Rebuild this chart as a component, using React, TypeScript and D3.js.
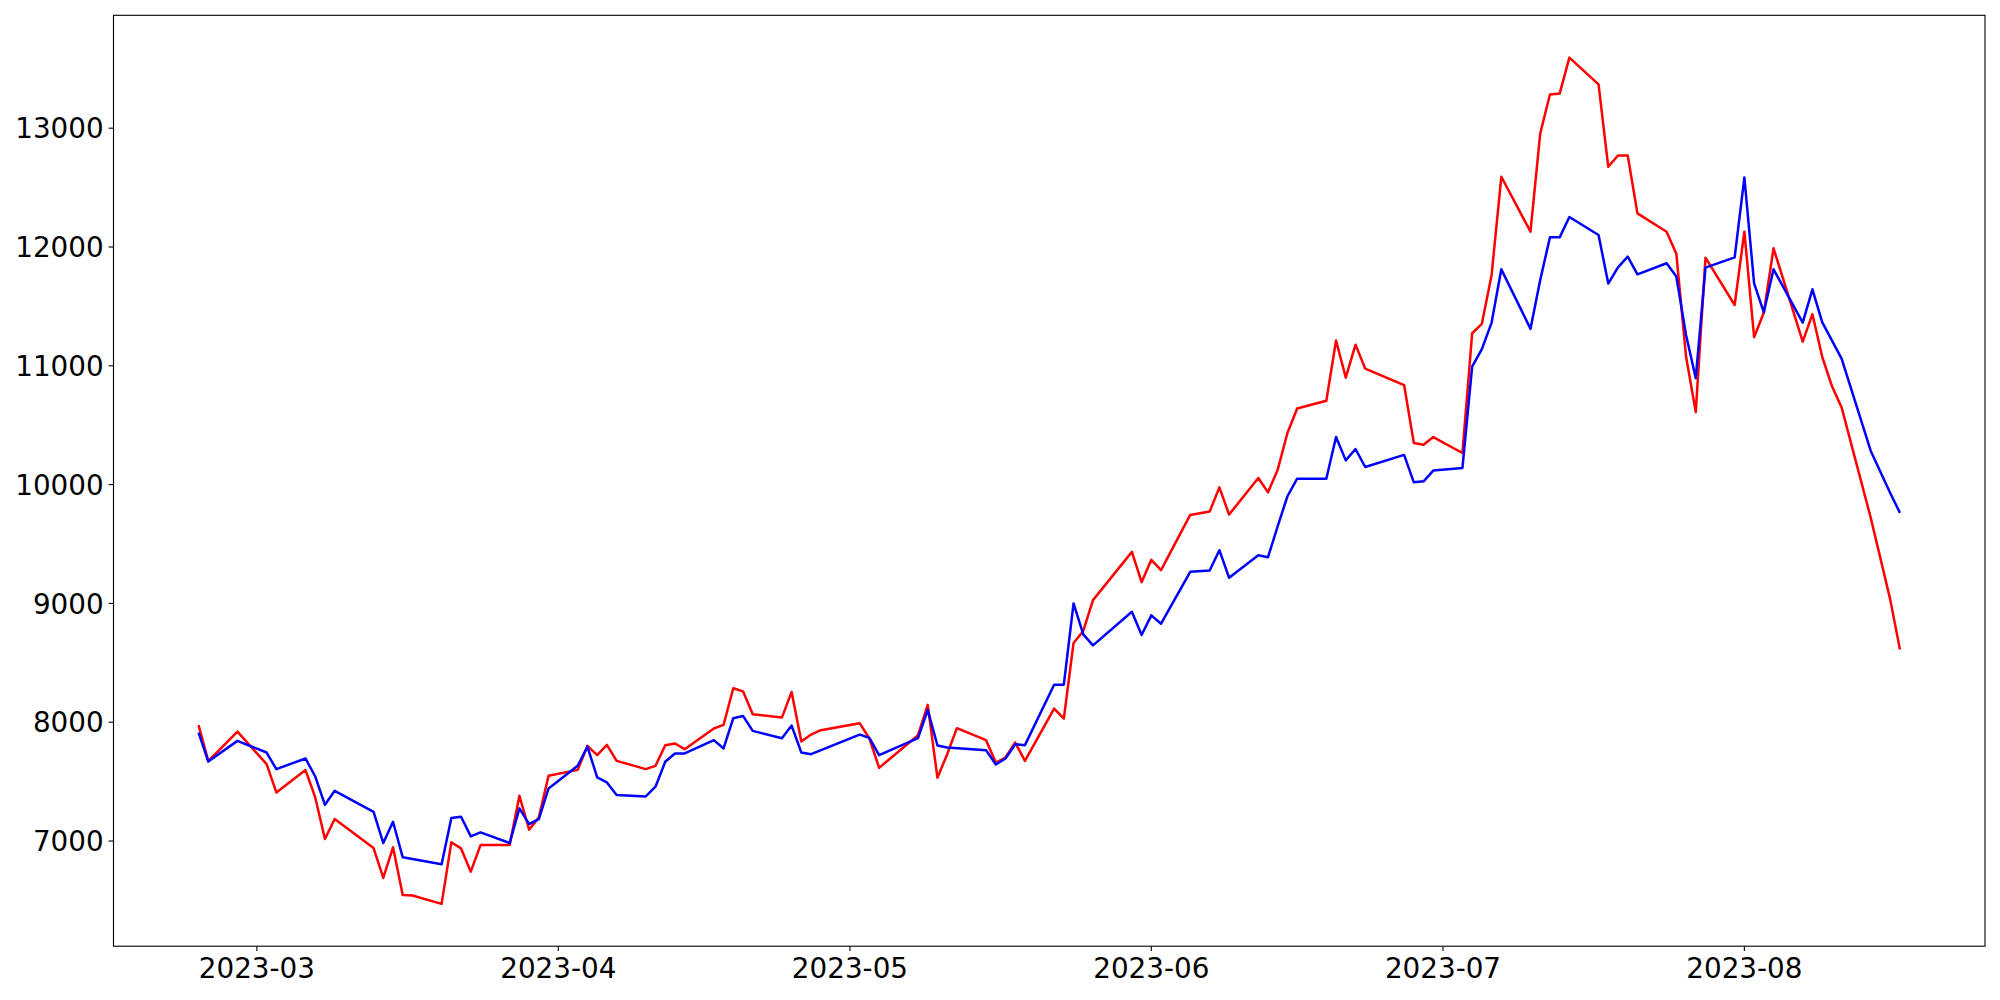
import React from "react";
import * as d3 from "d3";

const dates: string[] = [
  "2023-02-23", "2023-02-24", "2023-02-27", "2023-03-02", "2023-03-03",
  "2023-03-06", "2023-03-07", "2023-03-08", "2023-03-09", "2023-03-13",
  "2023-03-14", "2023-03-15", "2023-03-16", "2023-03-17", "2023-03-20",
  "2023-03-21", "2023-03-22", "2023-03-23", "2023-03-24", "2023-03-27",
  "2023-03-28", "2023-03-29", "2023-03-30", "2023-03-31", "2023-04-03",
  "2023-04-04", "2023-04-05", "2023-04-06", "2023-04-07", "2023-04-10",
  "2023-04-11", "2023-04-12", "2023-04-13", "2023-04-14", "2023-04-17",
  "2023-04-18", "2023-04-19", "2023-04-20", "2023-04-21", "2023-04-24",
  "2023-04-25", "2023-04-26", "2023-04-27", "2023-04-28", "2023-05-02",
  "2023-05-03", "2023-05-04", "2023-05-08", "2023-05-09", "2023-05-10",
  "2023-05-11", "2023-05-12", "2023-05-15", "2023-05-16", "2023-05-17",
  "2023-05-18", "2023-05-19", "2023-05-22", "2023-05-23", "2023-05-24",
  "2023-05-25", "2023-05-26", "2023-05-30", "2023-05-31", "2023-06-01",
  "2023-06-02", "2023-06-05", "2023-06-07", "2023-06-08", "2023-06-09",
  "2023-06-12", "2023-06-13", "2023-06-14", "2023-06-15", "2023-06-16",
  "2023-06-19", "2023-06-20", "2023-06-21", "2023-06-22", "2023-06-23",
  "2023-06-27", "2023-06-28", "2023-06-29", "2023-06-30", "2023-07-03",
  "2023-07-04", "2023-07-05", "2023-07-06", "2023-07-07", "2023-07-10",
  "2023-07-11", "2023-07-12", "2023-07-13", "2023-07-14", "2023-07-17",
  "2023-07-18", "2023-07-19", "2023-07-20", "2023-07-21", "2023-07-24",
  "2023-07-25", "2023-07-26", "2023-07-27", "2023-07-28", "2023-07-31",
  "2023-08-01", "2023-08-02", "2023-08-03", "2023-08-04", "2023-08-07",
  "2023-08-08", "2023-08-09", "2023-08-10", "2023-08-11", "2023-08-14",
  "2023-08-16", "2023-08-17",
];

const redValues: (number | null)[] = [
  7975, 7672, 7921, 7647, 7409,
  7597, 7367, 7017, 7185, 6941,
  6689, 6947, 6546, 6541, 6471,
  6989, 6938, 6742, 6966, 6966,
  7381, 7095, 7199, 7549, 7599,
  7801, 7723, 7809, 7675, 7605,
  7633, 7807, 7821, 7773, 7947,
  7978, 8286, 8260, 8067, 8039,
  8255, 7838, 7896, 7933, 7992,
  7863, 7616, 7891, 8146, 7532,
  7731, 7950, 7849, 7661, 7703,
  7829, 7675, 8115, 8031, 8667,
  8768, 9028, 9434, 9179, 9367,
  9280, 9745, 9773, 9977, 9748,
  10056, 9935, 10126, 10434, 10641,
  10706, 11213, 10900, 11178, 10976,
  10838, 10350, 10336, 10400, 10266,
  11274, 11353, 11765, 12591, 12129,
  12955, 13283, 13291, 13594, 13369,
  12675, 12770, 12770, 12283, 12128,
  11944, 11078, 10610, 11910, 11512,
  12129, 11241, 11448, 11989, 11204,
  11434, 11078, 10830, 10650, 9720,
  9034, 8613,
];

const blueValues: (number | null)[] = [
  7913, 7669, 7843, 7745, 7605,
  7695, 7543, 7305, 7423, 7246,
  6983, 7162, 6863, null, 6804,
  7193, 7204, 7039, 7073, 6983,
  7275, 7143, 7185, 7443, 7633,
  7795, 7535, 7493, 7387, 7375,
  7457, 7667, 7737, 7737, 7849,
  7779, 8034, 8053, 7927, 7865,
  7972, 7745, 7731, null, 7896,
  7868, 7723, 7866, 8104, 7804,
  7787, null, 7765, 7644, 7695,
  7815, 7807, 8316, 8316, 9000,
  8739, 8647, 8930, 8734, 8899,
  8829, 9266, 9277, 9448, 9216,
  9406, 9389, 9650, 9902, 10050,
  10050, 10400, 10204, 10300, 10148,
  10250, 10019, 10028, 10118, 10140,
  10994, 11140, 11364, 11812, 11311,
  11723, 12081, 12081, 12252, 12101,
  11692, 11829, 11919, 11770, 11863,
  11751, 11260, 10896, 11826, 11913,
  12585, 11694, 11450, 11812, 11364,
  11644, 11367, null, 11060, 10283,
  9930, 9762,
];

const yTicks: number[] = [7000, 8000, 9000, 10000, 11000, 12000, 13000];
const xTickLabels: string[] = ["2023-03", "2023-04", "2023-05", "2023-06", "2023-07", "2023-08"];

const W = 2000;
const H = 1000;
const LEFT = 113.5;
const RIGHT = 1985;
const TOP = 15.3;
const BOTTOM = 946.2;
const FONT = "'DejaVu Sans', sans-serif";
const FS = 27.8;
const TICK = 4.9;
const PAD = 4.9;

export default function App() {
  const parse = d3.utcParse("%Y-%m-%d");
  const parseMonth = d3.utcParse("%Y-%m");
  const parsed = dates.map((d) => parse(d) as Date);
  const [d0, d1] = d3.extent(parsed) as [Date, Date];
  const span = +d1 - +d0;
  const x = d3
    .scaleUtc()
    .domain([new Date(+d0 - 0.05 * span), new Date(+d1 + 0.05 * span)])
    .range([LEFT, RIGHT]);
  const all = [...redValues, ...blueValues].filter((v) => v != null) as number[];
  const [v0, v1] = d3.extent(all) as [number, number];
  const pad = (v1 - v0) * 0.05;
  const y = d3.scaleLinear().domain([v0 - pad, v1 + pad]).range([BOTTOM, TOP]);

  const line = d3
    .line<[Date, number]>()
    .x((d) => x(d[0]))
    .y((d) => y(d[1]));
  const pts = (vals: (number | null)[]) =>
    parsed
      .map((d, i) => [d, vals[i]] as [Date, number | null])
      .filter((p) => p[1] != null) as [Date, number][];

  const xTicks = xTickLabels.map((s) => ({ label: s, date: parseMonth(s) as Date }));

  return (
    <svg
      width={W}
      height={H}
      style={{ position: "absolute", left: 0, top: 0, background: "#fff" }}
      fontFamily={FONT}
    >
      <rect x={0} y={0} width={W} height={H} fill="#fff" />
      <clipPath id="plotclip">
        <rect x={LEFT} y={TOP} width={RIGHT - LEFT} height={BOTTOM - TOP} />
      </clipPath>
      <g clipPath="url(#plotclip)">
        <path
          d={line(pts(redValues)) || ""}
          fill="none"
          stroke="#ff0000"
          strokeWidth={2.5}
          strokeLinejoin="round"
        />
        <path
          d={line(pts(blueValues)) || ""}
          fill="none"
          stroke="#0000ff"
          strokeWidth={2.5}
          strokeLinejoin="round"
        />
      </g>
      <rect
        x={LEFT}
        y={TOP}
        width={RIGHT - LEFT}
        height={BOTTOM - TOP}
        fill="none"
        stroke="#000"
        strokeWidth={1.1}
      />
      {yTicks.map((t) => (
        <g key={t}>
          <line x1={LEFT - TICK} x2={LEFT} y1={y(t)} y2={y(t)} stroke="#000" strokeWidth={1.1} />
          <text
            x={LEFT - TICK - PAD}
            y={y(t) + FS * 0.365}
            textAnchor="end"
            fontSize={FS}
            fill="#000"
          >
            {t}
          </text>
        </g>
      ))}
      {xTicks.map((t) => (
        <g key={t.label}>
          <line
            x1={x(t.date)}
            x2={x(t.date)}
            y1={BOTTOM}
            y2={BOTTOM + TICK}
            stroke="#000"
            strokeWidth={1.1}
          />
          <text
            x={x(t.date)}
            y={BOTTOM + TICK + PAD + FS * 0.76 + 1}
            textAnchor="middle"
            fontSize={FS}
            fill="#000"
          >
            {t.label}
          </text>
        </g>
      ))}
    </svg>
  );
}
